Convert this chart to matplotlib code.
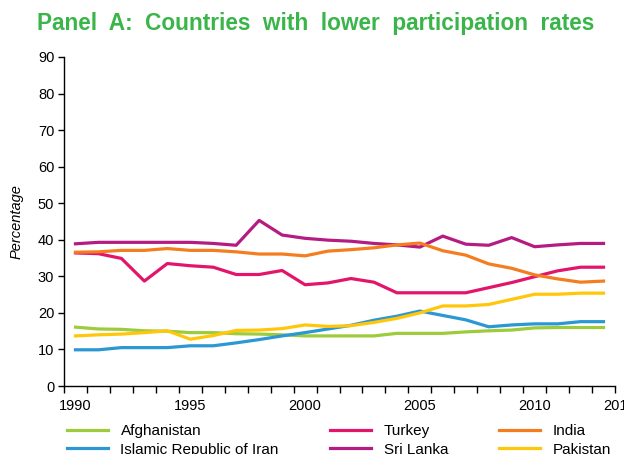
import numpy as np
import matplotlib.pyplot as plt

plt.rcParams['font.family'] = ['Liberation Sans', 'DejaVu Sans']

years = np.arange(1990, 2014)

afghanistan = [16.1, 15.6, 15.5, 15.1, 15.0, 14.6, 14.6, 14.3, 14.2, 14.0, 13.7, 13.7,
               13.7, 13.7, 14.4, 14.4, 14.4, 14.8, 15.1, 15.3, 15.9, 16.0, 16.0, 16.0]
iran = [9.9, 9.9, 10.5, 10.5, 10.5, 11.0, 11.0, 11.8, 12.7, 13.7, 14.6, 15.6,
        16.6, 18.0, 19.1, 20.5, 19.3, 18.1, 16.2, 16.7, 17.0, 17.0, 17.6, 17.6]
turkey = [36.4, 36.2, 34.9, 28.7, 33.5, 32.9, 32.5, 30.5, 30.5, 31.6, 27.7, 28.2,
          29.4, 28.4, 25.5, 25.5, 25.5, 25.5, 26.9, 28.3, 29.9, 31.5, 32.5, 32.5]
sri_lanka = [38.9, 39.3, 39.3, 39.3, 39.3, 39.3, 39.0, 38.5, 45.3, 41.3, 40.4, 39.9,
             39.6, 39.0, 38.6, 38.0, 41.0, 38.8, 38.5, 40.6, 38.1, 38.6, 39.0, 39.0]
india = [36.6, 36.7, 37.1, 37.1, 37.6, 37.1, 37.1, 36.7, 36.1, 36.1, 35.6, 36.9,
         37.3, 37.8, 38.6, 39.1, 37.0, 35.8, 33.4, 32.2, 30.4, 29.3, 28.4, 28.7]
pakistan = [13.7, 14.0, 14.2, 14.6, 15.1, 12.8, 13.8, 15.2, 15.3, 15.7, 16.7, 16.3,
            16.5, 17.4, 18.5, 20.0, 21.9, 21.9, 22.3, 23.7, 25.1, 25.1, 25.4, 25.4]

series = [
    ('Afghanistan', afghanistan, '#9DCB3B'),
    ('Islamic Republic of Iran', iran, '#2B97D3'),
    ('Turkey', turkey, '#E2156B'),
    ('Sri Lanka', sri_lanka, '#B51C82'),
    ('India', india, '#F47D20'),
    ('Pakistan', pakistan, '#FFC70A'),
]

xtick_pos = [1990, 1995, 2000, 2005, 2010]
xtick_labels = ['1990', '1995', '2000', '2005', '2010']

fig = plt.figure(figsize=(6.24, 4.54), dpi=100)
ax = fig.add_axes([64 / 624, 1 - 386 / 454, (615 - 64) / 624, (386 - 57) / 454])

for name, vals, col in series:
    ax.plot(years, vals, color=col, lw=2.3, label=name)

ax.set_xlim(1989.5, 2013.5)
ax.set_ylim(0, 90)
ax.set_yticks(np.arange(0, 91, 10))
ax.set_xticks(xtick_pos)
ax.set_xticklabels(xtick_labels)
ax.set_xticks(np.arange(1989.5, 2014, 1), minor=True)
ax.tick_params(axis='x', which='major', length=0, pad=9, labelsize=10.5)
ax.tick_params(axis='x', which='minor', length=5, width=1, direction='out')
ax.tick_params(axis='y', length=4, width=1, direction='out', labelsize=10.5, pad=3)
for s in ['top', 'right']:
    ax.spines[s].set_visible(False)
for s in ['left', 'bottom']:
    ax.spines[s].set_linewidth(1)
ax.set_ylabel('Percentage', style='italic', fontsize=10.5, labelpad=10)

# last axis label sits at the right edge and is cut by the page, as in the source
ax.text(2013.7, -12.5 / 329 * 90, '2015', ha='center', va='top', fontsize=10.5,
        clip_on=False)

fig.text(37 / 624, 1 - 30 / 454,
         'Panel  A:  Countries  with  lower  participation  rates',
         color='#3AB54A', fontsize=16.3, fontweight='bold', va='baseline', ha='left')

fig.legend(loc='upper left', bbox_to_anchor=(67 / 624, 1 - 424 / 454), ncol=3,
           frameon=False, fontsize=11, handlelength=2.7, handletextpad=0.8,
           columnspacing=3.35, labelspacing=0.3, borderpad=0, borderaxespad=0)

fig.savefig('out.png', dpi=100)
